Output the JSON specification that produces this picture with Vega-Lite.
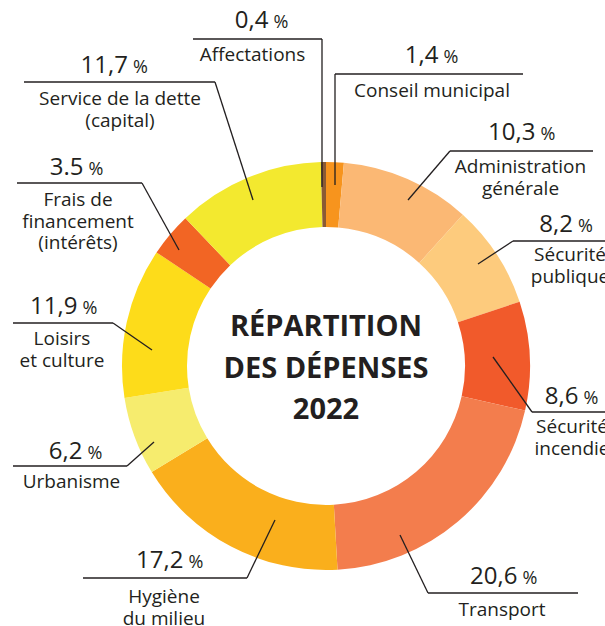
{
  "$schema": "https://vega.github.io/schema/vega-lite/v6.json",
  "width": 605,
  "height": 626,
  "padding": 0,
  "autosize": {"type": "none"},
  "background": "white",
  "config": {"view": {"stroke": null}, "text": {"font": "Open Sans", "color": "#231f20"}},
  "datasets": {
    "slices": [
      {"cat": "Conseil municipal", "pct": 1.4, "order": 1},
      {"cat": "Administration générale", "pct": 10.3, "order": 2},
      {"cat": "Sécurité publique", "pct": 8.2, "order": 3},
      {"cat": "Sécurité incendie", "pct": 8.6, "order": 4},
      {"cat": "Transport", "pct": 20.6, "order": 5},
      {"cat": "Hygiène du milieu", "pct": 17.2, "order": 6},
      {"cat": "Urbanisme", "pct": 6.2, "order": 7},
      {"cat": "Loisirs et culture", "pct": 11.9, "order": 8},
      {"cat": "Frais de financement", "pct": 3.5, "order": 9},
      {"cat": "Service de la dette", "pct": 11.7, "order": 10},
      {"cat": "Affectations", "pct": 0.4, "order": 11}
    ],
    "labels": [
      {"cat": "Affectations", "num": "0,4", "gx": -55, "ny": 338, "lab": "Affectations", "lx": -73.5, "lyb": 305, "hx1": -133, "hx2": -4, "ly": 327, "cx": -4, "ex": -4, "ey": 179},
      {"cat": "Conseil municipal", "num": "1,4", "gx": 115, "ny": 303, "lab": "Conseil municipal", "lx": 106, "lyb": 269, "hx1": 9, "hx2": 197, "ly": 292, "cx": 9, "ex": 9, "ey": 181},
      {"cat": "Administration générale", "num": "10,3", "gx": 212, "ny": 226, "lab": "Administration\ngénérale", "lx": 194.5, "lyb": 193, "hx1": 124, "hx2": 267, "ly": 215, "cx": 124, "ex": 82, "ey": 166},
      {"cat": "Sécurité publique", "num": "8,2", "gx": 249.5, "ny": 134, "lab": "Sécurité\npublique", "lx": 244, "lyb": 105, "hx1": 187, "hx2": 290, "ly": 125, "cx": 187, "ex": 152, "ey": 102},
      {"cat": "Sécurité incendie", "num": "8,6", "gx": 255, "ny": -38, "lab": "Sécurité\nincendie", "lx": 246, "lyb": -67, "hx1": 206, "hx2": 290, "ly": -46, "cx": 206, "ex": 167, "ey": 9},
      {"cat": "Transport", "num": "20,6", "gx": 194, "ny": -218, "lab": "Transport", "lx": 176, "lyb": -250, "hx1": 102, "hx2": 252, "ly": -227, "cx": 102, "ex": 74, "ey": -169},
      {"cat": "Hygiène du milieu", "num": "17,2", "gx": -140, "ny": -202, "lab": "Hygiène\ndu milieu", "lx": -162, "lyb": -237, "hx1": -243, "hx2": -79, "ly": -212, "cx": -79, "ex": -51, "ey": -154},
      {"cat": "Urbanisme", "num": "6,2", "gx": -241, "ny": -93, "lab": "Urbanisme", "lx": -254.5, "lyb": -122, "hx1": -313, "hx2": -199, "ly": -100, "cx": -199, "ex": -172, "ey": -76},
      {"cat": "Loisirs et culture", "num": "11,9", "gx": -246, "ny": 52, "lab": "Loisirs\net culture", "lx": -264, "lyb": 21, "hx1": -313, "hx2": -213, "ly": 43, "cx": -213, "ex": -174, "ey": 16},
      {"cat": "Frais de financement", "num": "3.5", "gx": -240, "ny": 191, "lab": "Frais de\nfinancement\n(intérêts)", "lx": -248, "lyb": 160, "hx1": -309, "hx2": -184, "ly": 183, "cx": -184, "ex": -147, "ey": 116},
      {"cat": "Service de la dette", "num": "11,7", "gx": -195.5, "ny": 293, "lab": "Service de la dette\n(capital)", "lx": -206, "lyb": 261, "hx1": -302, "hx2": -111, "ly": 284, "cx": -111, "ex": -73, "ey": 166}
    ],
    "title": [{"t": "RÉPARTITION\nDES DÉPENSES\n2022", "tx": 0, "ty": 30}]
  },
  "layer": [
    {
      "data": {"name": "slices"},
      "mark": {"type": "arc", "innerRadius": 139, "outerRadius": 204},
      "encoding": {
        "theta": {"field": "pct", "type": "quantitative", "stack": true},
        "order": {"field": "order", "type": "quantitative"},
        "color": {
          "field": "cat", "type": "nominal", "legend": null,
          "scale": {
            "domain": ["Conseil municipal", "Administration générale", "Sécurité publique", "Sécurité incendie", "Transport", "Hygiène du milieu", "Urbanisme", "Loisirs et culture", "Frais de financement", "Service de la dette", "Affectations"],
            "range": ["#f7941d", "#fbb874", "#fdcb7d", "#f15a2b", "#f37d4d", "#faaf1c", "#f6ec6e", "#fddc1a", "#f26524", "#f3e92f", "#8a5a34"]
          }
        },
        "x": {"datum": 0, "type": "quantitative", "scale": {"domain": [-326, 279], "nice": false, "zero": false}, "axis": null},
        "y": {"datum": 0, "type": "quantitative", "scale": {"domain": [-260, 366], "nice": false, "zero": false}, "axis": null}
      }
    },
    {
      "data": {"name": "labels"},
      "mark": {"type": "rule", "color": "#231f20", "strokeWidth": 1.3},
      "encoding": {
        "x": {"field": "hx1", "type": "quantitative", "scale": {"domain": [-326, 279], "nice": false, "zero": false}, "axis": null},
        "x2": {"field": "hx2"},
        "y": {"field": "ly", "type": "quantitative", "scale": {"domain": [-260, 366], "nice": false, "zero": false}, "axis": null}
      }
    },
    {
      "data": {"name": "labels"},
      "mark": {"type": "rule", "color": "#231f20", "strokeWidth": 1.3},
      "encoding": {
        "x": {"field": "cx", "type": "quantitative", "scale": {"domain": [-326, 279], "nice": false, "zero": false}, "axis": null},
        "x2": {"field": "ex"},
        "y": {"field": "ly", "type": "quantitative", "scale": {"domain": [-260, 366], "nice": false, "zero": false}, "axis": null},
        "y2": {"field": "ey"}
      }
    },
    {
      "data": {"name": "labels"},
      "mark": {"type": "text", "align": "right", "baseline": "alphabetic", "fontSize": 24, "dx": -2.5},
      "encoding": {
        "text": {"field": "num"},
        "x": {"field": "gx", "type": "quantitative", "scale": {"domain": [-326, 279], "nice": false, "zero": false}, "axis": null},
        "y": {"field": "ny", "type": "quantitative", "scale": {"domain": [-260, 366], "nice": false, "zero": false}, "axis": null}
      }
    },
    {
      "data": {"name": "labels"},
      "mark": {"type": "text", "align": "left", "baseline": "alphabetic", "fontSize": 18, "dx": 2.5, "text": "%"},
      "encoding": {
        "x": {"field": "gx", "type": "quantitative", "scale": {"domain": [-326, 279], "nice": false, "zero": false}, "axis": null},
        "y": {"field": "ny", "type": "quantitative", "scale": {"domain": [-260, 366], "nice": false, "zero": false}, "axis": null}
      }
    },
    {
      "data": {"name": "labels"},
      "mark": {"type": "text", "align": "center", "baseline": "alphabetic", "fontSize": 19, "lineBreak": "\n", "lineHeight": 21.5},
      "encoding": {
        "text": {"field": "lab"},
        "x": {"field": "lx", "type": "quantitative", "scale": {"domain": [-326, 279], "nice": false, "zero": false}, "axis": null},
        "y": {"field": "lyb", "type": "quantitative", "scale": {"domain": [-260, 366], "nice": false, "zero": false}, "axis": null}
      }
    },
    {
      "data": {"name": "title"},
      "mark": {"type": "text", "align": "center", "baseline": "alphabetic", "fontSize": 29, "fontWeight": "bold", "lineBreak": "\n", "lineHeight": 41.5},
      "encoding": {
        "text": {"field": "t"},
        "x": {"field": "tx", "type": "quantitative", "scale": {"domain": [-326, 279], "nice": false, "zero": false}, "axis": null},
        "y": {"field": "ty", "type": "quantitative", "scale": {"domain": [-260, 366], "nice": false, "zero": false}, "axis": null}
      }
    }
  ]
}
